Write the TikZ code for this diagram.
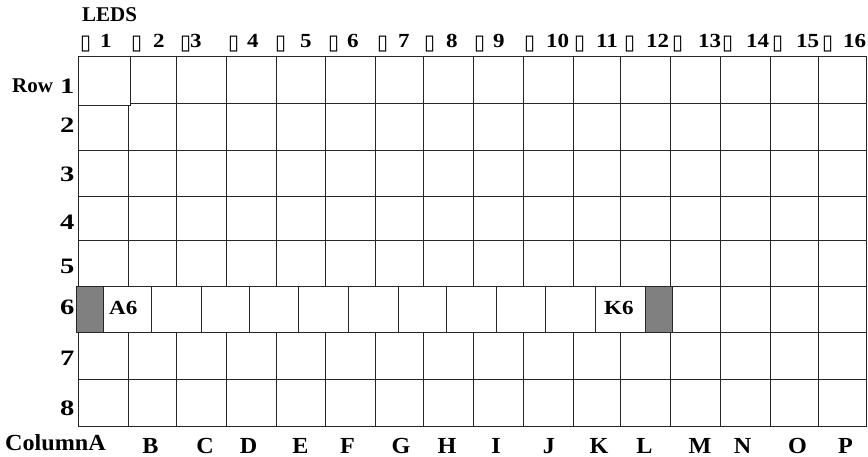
\documentclass[tikz,border=0pt]{standalone}
\usepackage{fontspec}
\usepackage{graphicx}
\setmainfont{Liberation Serif}
\newfontfamily\widefont{Liberation Serif}[FakeStretch=1.15]
\newfontfamily\rowfont{Liberation Serif}[FakeStretch=1.3]
\newfontfamily\colfont{Liberation Serif}[FakeStretch=1.05]
\newfontfamily\symf{DejaVu Sans}
\newcommand{\tofubox}{\raisebox{-2pt}{\resizebox*{11pt}{16pt}{\symf ▯}}}
\tikzset{
  lbl/.style={inner sep=0pt, font=\fontsize{21}{21}\selectfont\bfseries},
  numlbl/.style={inner sep=0pt, font=\widefont\fontsize{20}{20}\selectfont\bfseries},
  rowlbl/.style={inner sep=0pt, font=\rowfont\fontsize{22}{22}\selectfont\bfseries},
  collbl/.style={inner sep=0pt, font=\colfont\fontsize{23}{23}\selectfont\bfseries},
  gridline/.style={line width=0.9pt, draw=black!85},
  ledcell/.style={draw=black!85, line width=0.9pt, fill=black!50},
}
\begin{document}
\begin{tikzpicture}[x=1pt,y=-1pt]
\useasboundingbox (0,0) rectangle (868,457);
% ---- grid ----
\draw[gridline] (78,56.7) rectangle (130,105);
\draw[gridline] (130,56.7) -- (866.5,56.7);
\draw[gridline] (130,103.3) -- (866.5,103.3);
\foreach \y in {150,196,240.7,379.3,426}
  \draw[gridline] (78,\y) -- (866.5,\y);
\draw[gridline] (76.7,286.7) -- (866.5,286.7);
\draw[gridline] (76.7,332.7) -- (866.5,332.7);
\draw[gridline] (78,105) -- (78,286.7);
\draw[gridline] (78,332.7) -- (78,426);
\draw[gridline] (128.3,105) -- (128.3,286.7);
\draw[gridline] (128.3,332.7) -- (128.3,426);
\foreach \x in {176,226,276,325.7,375.7,423.7,473.3,523.3,573.3,620.7,670.7}{
  \draw[gridline] (\x,56.7) -- (\x,286.7);
  \draw[gridline] (\x,332.7) -- (\x,426);
}
\foreach \x in {720.3,770.3,818,866.5}
  \draw[gridline] (\x,56.7) -- (\x,426);
% ---- row 6 (shifted) ----
\foreach \x in {103.3,151.7,201,249.3,298.3,348.3,398.3,446,496,545.7,595.7}
  \draw[gridline] (\x,286.7) -- (\x,332.7);
\draw[ledcell] (76.7,286.7) rectangle (103.3,332.5);
\draw[ledcell] (645.7,286.7) rectangle (672.3,332.5);
\node[numlbl, anchor=base west] (a6) at (109,315) {A6};
\node[numlbl, anchor=base west] (k6) at (604,315) {K6};
% ---- header ----
\node[lbl, anchor=base west] (leds) at (82,21.7) {LEDS};
\foreach \b/\n/\t in {80/100/1,131/153/2,180/190/3,228/247/4,275/300/5,328/347/6,377/398/7,424/446/8,474/493/9,524/546/10,574/596/11,624/646/12,672/698/13,722/746/14,772/796/15,822/843/16}{
  \node[lbl, anchor=base west] (hb\t) at (\b,48) {\tofubox};
  \node[numlbl, anchor=base west] (h\t) at (\n,48) {\t};
}
% ---- row labels ----
\node[lbl, anchor=base west] (rowword) at (12,93) {Row};
\foreach \r/\y in {1/94,2/133,3/182,4/230,5/273,6/315,7/365,8/415}
  \node[rowlbl, anchor=base east] (r\r) at (74.5,\y) {\r};
% ---- column labels ----
\node[collbl, anchor=base west] (colA) at (5,450) {ColumnA};
\foreach \c/\x in {B/150.5,C/205,D/248.5,E/300.5,F/347.5,G/401,H/447,I/496,J/549,K/599,L/644.5,M/700,N/742.5,O/797.5,P/845.5}
  \node[collbl, anchor=base] (c\c) at (\x,453) {\c};
\end{tikzpicture}
\end{document}
